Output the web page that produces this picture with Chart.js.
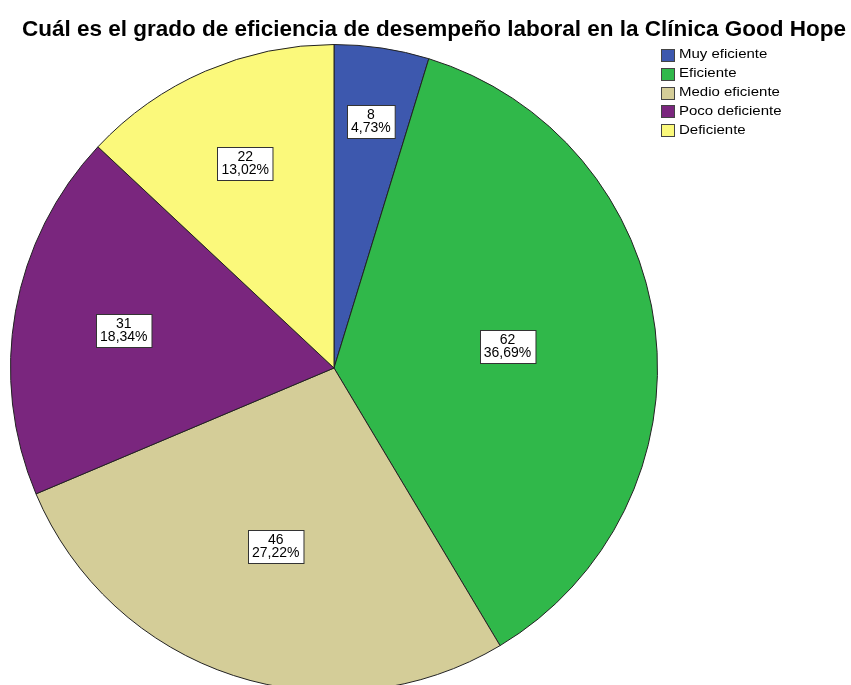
<!DOCTYPE html>
<html>
<head>
<meta charset="utf-8">
<script src="https://cdn.jsdelivr.net/npm/chart.js@4.4.1/dist/chart.umd.min.js"></script>
<style>
    html, body { margin: 0; padding: 0; background: #ffffff; overflow: hidden; }
    #contenedor { position: relative; width: 851px; height: 700px; }
</style>
</head>
<body>
<div id="contenedor">
    <canvas id="grafica-eficiencia" width="851" height="700"></canvas>
</div>
<script>
const titulo = 'Cuál es el grado de eficiencia de desempeño laboral en la Clínica Good Hope';
const categorias = ['Muy eficiente', 'Eficiente', 'Medio eficiente', 'Poco deficiente', 'Deficiente'];
const frecuencias = [8, 62, 46, 31, 22];
const porcentajes = ['4,73%', '36,69%', '27,22%', '18,34%', '13,02%'];

const colores = ['#3d58ae', '#30b84a', '#d4cd98', '#7a267e', '#fbf97b'];
// distancia de cada etiqueta al centro, como fracción del radio
const radioEtiquetas = [0.77, 0.54, 0.58, 0.66, 0.69];

const fuente = '"Liberation Sans", Arial, sans-serif';

const dibujarExtras = {
    id: 'dibujarExtras',
    afterDraw(chart) {
        const ctx = chart.ctx;
        ctx.save();

        // titulo
        ctx.fillStyle = '#000000';
        ctx.font = 'bold 22.5px ' + fuente;
        ctx.textAlign = 'center';
        ctx.textBaseline = 'alphabetic';
        ctx.fillText(titulo, 434, 36);

        // etiquetas de cada porción
        const arcos = chart.getDatasetMeta(0).data;
        ctx.font = '14px ' + fuente;
        arcos.forEach((arco, i) => {
            const p = arco.getProps(['x', 'y', 'startAngle', 'endAngle', 'outerRadius'], true);
            const medio = (p.startAngle + p.endAngle) / 2;
            const r = p.outerRadius * radioEtiquetas[i];
            const cx = p.x + Math.cos(medio) * r;
            const cy = p.y + Math.sin(medio) * r;
            const linea1 = String(frecuencias[i]);
            const linea2 = porcentajes[i];
            const ancho = Math.max(ctx.measureText(linea1).width, ctx.measureText(linea2).width) + 8;
            const alto = 33;
            const x0 = Math.round(cx - ancho / 2) + 0.5;
            const y0 = Math.round(cy - alto / 2) + 0.5;
            ctx.fillStyle = '#ffffff';
            ctx.fillRect(x0, y0, ancho, alto);
            ctx.strokeStyle = '#333333';
            ctx.lineWidth = 1;
            ctx.strokeRect(x0, y0, ancho, alto);
            ctx.fillStyle = '#000000';
            ctx.textAlign = 'center';
            ctx.textBaseline = 'middle';
            ctx.fillText(linea1, cx, y0 + 10);
            ctx.fillText(linea2, cx, y0 + 23);
        });

        // leyenda
        ctx.textAlign = 'left';
        ctx.textBaseline = 'middle';
        ctx.font = '12px ' + fuente;
        categorias.forEach((cat, i) => {
            const y = 55 + i * 18.8;
            ctx.fillStyle = colores[i];
            ctx.fillRect(661, Math.round(y - 6), 14, 13);
            ctx.strokeStyle = '#444444';
            ctx.strokeRect(661.5, Math.round(y - 6) + 0.5, 13, 12);
            ctx.fillStyle = '#000000';
            ctx.save();
            ctx.translate(679, y);
            ctx.scale(1.25, 1);
            ctx.fillText(cat, 0, 0);
            ctx.restore();
        });

        ctx.restore();
    }
};

const ctx = document.getElementById('grafica-eficiencia').getContext('2d');
const myChart = new Chart(ctx, {
    type: 'pie',
    data: {
        labels: categorias,
        datasets: [{
            data: frecuencias,
            backgroundColor: colores,
            borderColor: '#222222',
            borderWidth: 1
        }]
    },
    options: {
        responsive: false,
        animation: false,
        layout: {
            padding: { left: 9, right: 192, top: 44, bottom: 8 }
        },
        plugins: {
            legend: { display: false },
            tooltip: { enabled: false },
            title: { display: false }
        }
    },
    plugins: [dibujarExtras]
});
</script>
</body>
</html>
